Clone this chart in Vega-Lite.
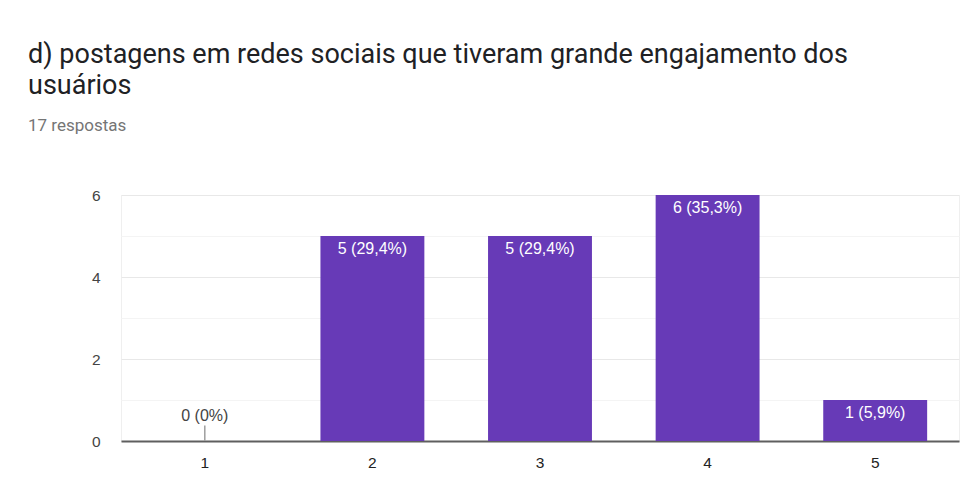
{
  "$schema": "https://vega.github.io/schema/vega-lite/v6.json",
  "autosize": "none",
  "width": 838,
  "height": 246,
  "padding": {"left": 121, "top": 195, "right": 18, "bottom": 62},
  "background": "white",
  "config": {
    "view": {"stroke": "#efefef", "strokeWidth": 1},
    "font": "Liberation Sans"
  },
  "title": {
    "text": ["d) postagens em redes sociais que tiveram grande engajamento dos", "usuários"],
    "subtitle": "17 respostas",
    "anchor": "start",
    "frame": "group",
    "dx": -93,
    "font": "Roboto",
    "fontSize": 27,
    "fontWeight": "normal",
    "color": "#202124",
    "lineHeight": 31,
    "subtitleFont": "Roboto",
    "subtitleFontSize": 17,
    "subtitleColor": "#757575",
    "subtitlePadding": 18,
    "offset": 53
  },
  "data": {
    "values": [
      {"option": "1", "count": 0, "label": "0 (0%)"},
      {"option": "2", "count": 5, "label": "5 (29,4%)"},
      {"option": "3", "count": 5, "label": "5 (29,4%)"},
      {"option": "4", "count": 6, "label": "6 (35,3%)"},
      {"option": "5", "count": 1, "label": "1 (5,9%)"}
    ]
  },
  "encoding": {
    "x": {
      "field": "option",
      "type": "ordinal",
      "scale": {"paddingInner": 0.38, "paddingOuter": 0.19},
      "axis": {
        "title": null,
        "labelAngle": 0,
        "ticks": false,
        "labelPadding": 14,
        "labelFontSize": 15.5,
        "labelColor": "#222222",
        "domainColor": "#5f5f5f",
        "domainWidth": 2,
        "grid": false
      }
    }
  },
  "layer": [
    {
      "mark": {"type": "bar", "color": "#673ab7"},
      "encoding": {
        "y": {
          "field": "count",
          "type": "quantitative",
          "scale": {"domain": [0, 6], "nice": false},
          "axis": {
            "title": null,
            "values": [0, 1, 2, 3, 4, 5, 6],
            "labelExpr": "datum.value % 2 == 0 ? datum.label : ''",
            "ticks": false,
            "domain": false,
            "labelPadding": 21,
            "labelFontSize": 15.5,
            "labelColor": "#444444",
            "gridColor": {"condition": {"test": "datum.value % 2 == 0", "value": "#e8e8e8"}, "value": "#f4f4f4"},
            "gridWidth": 1
          }
        }
      }
    },
    {
      "transform": [{"filter": "datum.count == 0"}],
      "mark": {"type": "rule", "color": "#9e9e9e", "strokeWidth": 1.5},
      "encoding": {
        "y": {"datum": 0, "type": "quantitative"},
        "y2": {"datum": 0.38}
      }
    },
    {
      "transform": [{"filter": "datum.count == 0"}],
      "mark": {"type": "text", "baseline": "bottom", "dy": -17, "fontSize": 16, "color": "#444444"},
      "encoding": {
        "y": {"field": "count", "type": "quantitative"},
        "text": {"field": "label"}
      }
    },
    {
      "transform": [{"filter": "datum.count > 0"}],
      "mark": {"type": "text", "baseline": "top", "dy": 5, "fontSize": 16, "color": "white"},
      "encoding": {
        "y": {"field": "count", "type": "quantitative"},
        "text": {"field": "label"}
      }
    }
  ]
}
